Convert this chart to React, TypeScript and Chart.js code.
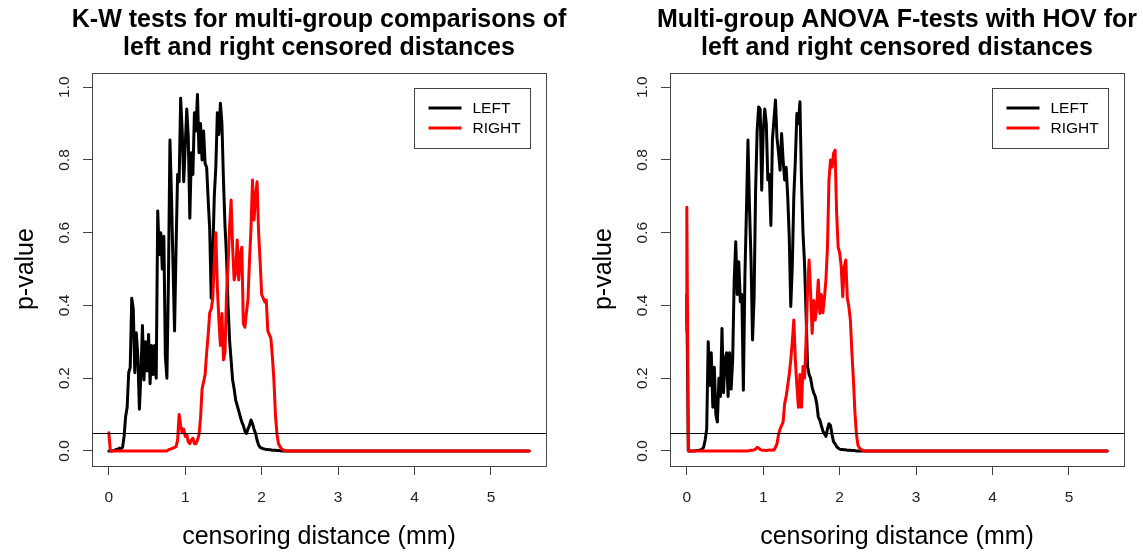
import React, { useEffect, useRef } from "react";
import { Chart, registerables } from "chart.js";

Chart.register(...registerables);

const FONT = '"Liberation Sans", Arial, Helvetica, sans-serif';
Chart.defaults.font.family = FONT;

// sampled censoring distances (mm)
const DISTANCE_MM = [
  0, 0.02, 0.04, 0.06, 0.08, 0.1, 0.12, 0.14, 0.16, 0.18,
  0.2, 0.22, 0.24, 0.26, 0.28, 0.3, 0.32, 0.34, 0.36, 0.38,
  0.4, 0.42, 0.44, 0.46, 0.48, 0.5, 0.52, 0.54, 0.56, 0.58,
  0.6, 0.62, 0.64, 0.66, 0.68, 0.7, 0.72, 0.74, 0.76, 0.78,
  0.8, 0.82, 0.84, 0.86, 0.88, 0.9, 0.92, 0.94, 0.96, 0.98,
  1.0, 1.02, 1.04, 1.06, 1.08, 1.1, 1.12, 1.14, 1.16, 1.18,
  1.2, 1.22, 1.24, 1.26, 1.28, 1.3, 1.32, 1.34, 1.36, 1.38,
  1.4, 1.42, 1.44, 1.46, 1.48, 1.5, 1.52, 1.54, 1.56, 1.58,
  1.6, 1.62, 1.64, 1.66, 1.68, 1.7, 1.72, 1.74, 1.76, 1.78,
  1.8, 1.82, 1.84, 1.86, 1.88, 1.9, 1.92, 1.94, 1.96, 1.98,
  2.0, 2.02, 2.04, 2.06, 2.08, 2.1, 2.12, 2.14, 2.16, 2.18,
  2.2, 2.22, 2.24, 2.26, 2.28, 2.3, 2.32, 2.34, 2.36, 2.38,
  2.4, 2.42, 2.44, 2.46, 2.48, 2.5,
];

// K-W tests, LEFT censored distances
const KW_LEFT = [
  0.000, 0.000, 0.000, 0.001, 0.002, 0.005, 0.004, 0.008, 0.006, 0.010,
  0.040, 0.095, 0.120, 0.215, 0.230, 0.420, 0.390, 0.215, 0.325, 0.260,
  0.115, 0.210, 0.345, 0.195, 0.300, 0.220, 0.320, 0.185, 0.290, 0.210,
  0.290, 0.200, 0.660, 0.540, 0.600, 0.500, 0.590, 0.260, 0.200, 0.470,
  0.855, 0.700, 0.510, 0.330, 0.560, 0.760, 0.740, 0.970, 0.880, 0.740,
  0.840, 0.940, 0.860, 0.640, 0.820, 0.760, 0.930, 0.880, 0.980, 0.820,
  0.900, 0.800, 0.880, 0.790, 0.780, 0.690, 0.610, 0.420, 0.540, 0.700,
  0.780, 0.930, 0.870, 0.956, 0.900, 0.745, 0.620, 0.534, 0.400, 0.305,
  0.250, 0.195, 0.170, 0.140, 0.125, 0.110, 0.094, 0.080, 0.070, 0.055,
  0.048, 0.060, 0.070, 0.085, 0.075, 0.060, 0.048, 0.030, 0.016, 0.010,
  0.008, 0.006, 0.005, 0.004, 0.004, 0.003, 0.003, 0.002, 0.002, 0.002,
  0.001, 0.001, 0.001, 0.000, 0.000, 0.000, 0.000, 0.000, 0.000, 0.000,
  0.000, 0.000, 0.000, 0.000, 0.000, 0.000,
];

// K-W tests, RIGHT censored distances
const KW_RIGHT = [
  0.050, 0.000, 0.000, 0.000, 0.000, 0.000, 0.000, 0.000, 0.000, 0.000,
  0.000, 0.000, 0.000, 0.000, 0.000, 0.000, 0.000, 0.000, 0.000, 0.000,
  0.000, 0.000, 0.000, 0.000, 0.000, 0.000, 0.000, 0.000, 0.000, 0.000,
  0.000, 0.000, 0.000, 0.000, 0.000, 0.000, 0.000, 0.000, 0.000, 0.003,
  0.005, 0.006, 0.008, 0.010, 0.012, 0.030, 0.100, 0.070, 0.050, 0.060,
  0.040, 0.045, 0.025, 0.020, 0.030, 0.035, 0.020, 0.020, 0.030, 0.045,
  0.090, 0.170, 0.190, 0.210, 0.270, 0.320, 0.380, 0.390, 0.420, 0.520,
  0.600, 0.450, 0.360, 0.290, 0.378, 0.250, 0.270, 0.430, 0.510, 0.617,
  0.690, 0.560, 0.470, 0.490, 0.580, 0.470, 0.540, 0.560, 0.350, 0.340,
  0.380, 0.415, 0.520, 0.610, 0.745, 0.635, 0.700, 0.740, 0.600, 0.520,
  0.430, 0.420, 0.410, 0.415, 0.330, 0.320, 0.310, 0.260, 0.195, 0.100,
  0.046, 0.020, 0.012, 0.006, 0.003, 0.001, 0.000, 0.000, 0.000, 0.000,
  0.000, 0.000, 0.000, 0.000, 0.000, 0.000,
];

// ANOVA F-tests with HOV, LEFT censored distances
const ANOVA_LEFT_START = 0.35;
const ANOVA_LEFT = [
  0.430, 0.000, 0.000, 0.000, 0.000, 0.000, 0.001, 0.001, 0.002, 0.003,
  0.005, 0.010, 0.030, 0.060, 0.300, 0.180, 0.270, 0.120, 0.230, 0.100,
  0.080, 0.200, 0.150, 0.337, 0.160, 0.250, 0.270, 0.150, 0.270, 0.170,
  0.250, 0.470, 0.575, 0.430, 0.520, 0.410, 0.430, 0.167, 0.480, 0.660,
  0.855, 0.670, 0.526, 0.305, 0.420, 0.717, 0.880, 0.946, 0.940, 0.717,
  0.882, 0.940, 0.900, 0.745, 0.760, 0.620, 0.855, 0.910, 0.965, 0.860,
  0.820, 0.772, 0.873, 0.800, 0.745, 0.780, 0.700, 0.590, 0.397, 0.507,
  0.700, 0.800, 0.928, 0.900, 0.960, 0.745, 0.600, 0.516, 0.380, 0.232,
  0.210, 0.200, 0.175, 0.160, 0.150, 0.130, 0.094, 0.085, 0.070, 0.055,
  0.048, 0.040, 0.060, 0.075, 0.070, 0.045, 0.025, 0.020, 0.012, 0.008,
  0.005, 0.004, 0.004, 0.003, 0.003, 0.002, 0.002, 0.002, 0.001, 0.001,
  0.001, 0.000, 0.000, 0.000, 0.000, 0.000, 0.000, 0.000, 0.000, 0.000,
  0.000, 0.000, 0.000, 0.000, 0.000, 0.000,
];

// ANOVA F-tests with HOV, RIGHT censored distances
const ANOVA_RIGHT_START = 0.33;
const ANOVA_RIGHT = [
  0.670, 0.000, 0.000, 0.000, 0.000, 0.000, 0.000, 0.000, 0.000, 0.000,
  0.000, 0.000, 0.000, 0.000, 0.000, 0.000, 0.000, 0.000, 0.000, 0.000,
  0.000, 0.000, 0.000, 0.000, 0.000, 0.000, 0.000, 0.000, 0.000, 0.000,
  0.000, 0.000, 0.000, 0.000, 0.000, 0.000, 0.000, 0.000, 0.000, 0.000,
  0.000, 0.001, 0.002, 0.002, 0.003, 0.005, 0.010, 0.008, 0.004, 0.002,
  0.002, 0.002, 0.001, 0.002, 0.003, 0.002, 0.003, 0.002, 0.010, 0.020,
  0.045, 0.060, 0.070, 0.080, 0.130, 0.150, 0.180, 0.210, 0.250, 0.300,
  0.360, 0.250, 0.180, 0.120, 0.210, 0.120, 0.232, 0.200, 0.300, 0.443,
  0.525, 0.433, 0.323, 0.414, 0.360, 0.400, 0.470, 0.378, 0.430, 0.380,
  0.420, 0.470, 0.560, 0.745, 0.800, 0.780, 0.818, 0.827, 0.654, 0.560,
  0.545, 0.507, 0.424, 0.507, 0.525, 0.420, 0.397, 0.360, 0.270, 0.195,
  0.104, 0.045, 0.015, 0.008, 0.004, 0.002, 0.000, 0.000, 0.000, 0.000,
  0.000, 0.000, 0.000, 0.000, 0.000, 0.000,
];

// last sampled distance and its p-value (flat tail)
const X_END = 5.5;
const END_P = 0;

const THRESHOLD = 0.05;
const X_TICKS = [0, 1, 2, 3, 4, 5];
const Y_TICKS = [0, 0.2, 0.4, 0.6, 0.8, 1.0];
const SERIES_NAMES = ["LEFT", "RIGHT"];
const SERIES_COLORS = ["#000000", "#ff0000"];
const X_LABEL = "censoring distance (mm)";
const Y_LABEL = "p-value";
const KW_TITLE = ["K-W tests for multi-group comparisons of", "left and right censored distances"];
const ANOVA_TITLE = ["Multi-group ANOVA F-tests with HOV for", "left and right censored distances"];

function toPoints(values: number[], start?: number) {
  const pts: { x: number; y: number }[] = [];
  if (start !== undefined) pts.push({ x: DISTANCE_MM[0], y: start });
  values.forEach((v, i) => pts.push({ x: DISTANCE_MM[i], y: v }));
  pts.push({ x: X_END, y: END_P });
  return pts;
}

const framePlugin = {
  id: "rFrame",
  afterDatasetsDraw(chart: any) {
    const { ctx, chartArea: a, scales } = chart;
    ctx.save();
    const y = Math.round(scales.y.getPixelForValue(THRESHOLD)) + 0.5;
    ctx.strokeStyle = "#000";
    ctx.lineWidth = 1;
    ctx.beginPath();
    ctx.moveTo(a.left, y);
    ctx.lineTo(a.right, y);
    ctx.stroke();
    ctx.strokeStyle = "#444";
    const l = Math.round(a.left) + 0.5, t = Math.round(a.top) + 0.5;
    const r = Math.round(a.right) + 0.5, b = Math.round(a.bottom) + 0.5;
    ctx.strokeRect(l, t, r - l, b - t);
    ctx.restore();
  },
};

const legendPlugin = {
  id: "rLegend",
  afterDraw(chart: any) {
    const { ctx, chartArea: a } = chart;
    const bw = 116, bh = 60;
    const bx = Math.round(a.right - 16 - bw) + 0.5;
    const by = Math.round(a.top + 15) + 0.5;
    ctx.save();
    ctx.fillStyle = "#fff";
    ctx.fillRect(bx, by, bw, bh);
    ctx.strokeStyle = "#444";
    ctx.lineWidth = 1;
    ctx.strokeRect(bx, by, bw, bh);
    chart.data.datasets.forEach((ds: any, i: number) => {
      const ly = by + 19.5 + i * 20;
      ctx.strokeStyle = ds.borderColor;
      ctx.lineWidth = 3;
      ctx.lineCap = "butt";
      ctx.beginPath();
      ctx.moveTo(bx + 14, ly);
      ctx.lineTo(bx + 47, ly);
      ctx.stroke();
      ctx.fillStyle = "#000";
      ctx.font = `15.5px ${FONT}`;
      ctx.textAlign = "left";
      ctx.textBaseline = "middle";
      ctx.fillText(ds.label, bx + 58, ly + 0.5);
    });
    ctx.restore();
  },
};

const titlePlugin = {
  id: "rTitle",
  afterDraw(chart: any, _args: any, opts: any) {
    const { ctx, chartArea: a } = chart;
    const lines: string[] = opts.lines || [];
    ctx.save();
    ctx.fillStyle = "#000";
    ctx.font = `bold 25px ${FONT}`;
    ctx.textAlign = "center";
    ctx.textBaseline = "alphabetic";
    const cx = (a.left + a.right) / 2;
    lines.forEach((ln, i) => ctx.fillText(ln, cx, 26.5 + i * 28));
    ctx.restore();
  },
};

function Panel({ left, width, padRight, title, leftVals, rightVals, leftStart, rightStart }: any) {
  const ref = useRef<HTMLCanvasElement | null>(null);
  useEffect(() => {
    if (!ref.current) return;
    const chart = new Chart(ref.current, {
      type: "line",
      data: {
        datasets: [
          {
            label: SERIES_NAMES[0],
            data: toPoints(leftVals, leftStart),
            borderColor: SERIES_COLORS[0],
            borderWidth: 3,
            pointRadius: 0,
            tension: 0,
            borderJoinStyle: "round",
            borderCapStyle: "round",
            order: 1,
          },
          {
            label: SERIES_NAMES[1],
            data: toPoints(rightVals, rightStart),
            borderColor: SERIES_COLORS[1],
            borderWidth: 3,
            pointRadius: 0,
            tension: 0,
            borderJoinStyle: "round",
            borderCapStyle: "round",
            order: 0,
          },
        ],
      } as any,
      options: {
        animation: false,
        responsive: false,
        devicePixelRatio: 1,
        layout: { padding: { top: 72.7, right: padRight, bottom: 0, left: 0 } },
        plugins: {
          legend: { display: false },
          title: { display: false },
          tooltip: { enabled: false },
          rTitle: { lines: title },
        } as any,
        scales: {
          x: {
            type: "linear",
            min: -0.22,
            max: 5.72,
            afterBuildTicks: (s: any) => {
              s.ticks = X_TICKS.map((v) => ({ value: v }));
            },
            afterFit: (s: any) => {
              s.height = 88.5;
            },
            grid: { display: true, drawOnChartArea: false, drawTicks: true, tickLength: 9.5, color: "#444" },
            border: { display: false },
            ticks: {
              autoSkip: false,
              maxRotation: 0,
              padding: 13.5,
              color: "#222",
              font: { size: 15.5 },
              callback: (v: any) => String(v),
            },
            title: {
              display: true,
              text: X_LABEL,
              color: "#000",
              font: { size: 25 },
              padding: { top: 0, bottom: 2 },
            },
          },
          y: {
            type: "linear",
            min: -0.04,
            max: 1.04,
            afterBuildTicks: (s: any) => {
              s.ticks = Y_TICKS.map((v) => ({ value: v }));
            },
            afterFit: (s: any) => {
              s.width = 92;
            },
            grid: { display: true, drawOnChartArea: false, drawTicks: true, tickLength: 9, color: "#444" },
            border: { display: false },
            ticks: {
              autoSkip: false,
              minRotation: 90,
              maxRotation: 90,
              crossAlign: "center",
              padding: 7.2,
              color: "#222",
              font: { size: 15.5 },
              callback: (v: any) => Number(v).toFixed(1),
            },
            title: {
              display: true,
              text: Y_LABEL,
              color: "#000",
              font: { size: 25 },
              padding: { top: 11, bottom: 0 },
            },
          },
        } as any,
      },
      plugins: [framePlugin, legendPlugin, titlePlugin],
    });
    return () => chart.destroy();
  }, []);
  return (
    <canvas
      ref={ref}
      width={width}
      height={554}
      style={{ position: "absolute", left, top: 0, width, height: 554 }}
    />
  );
}

export default function App() {
  return (
    <div
      style={{
        position: "fixed",
        left: 0,
        top: 0,
        width: 1143,
        height: 554,
        background: "#fff",
        overflow: "hidden",
      }}
    >
      <Panel left={0} width={578} padRight={32} title={KW_TITLE} leftVals={KW_LEFT} rightVals={KW_RIGHT} />
      <Panel
        left={578}
        width={565}
        padRight={19}
        title={ANOVA_TITLE}
        leftVals={ANOVA_LEFT}
        rightVals={ANOVA_RIGHT}
        leftStart={ANOVA_LEFT_START}
        rightStart={ANOVA_RIGHT_START}
      />
    </div>
  );
}
